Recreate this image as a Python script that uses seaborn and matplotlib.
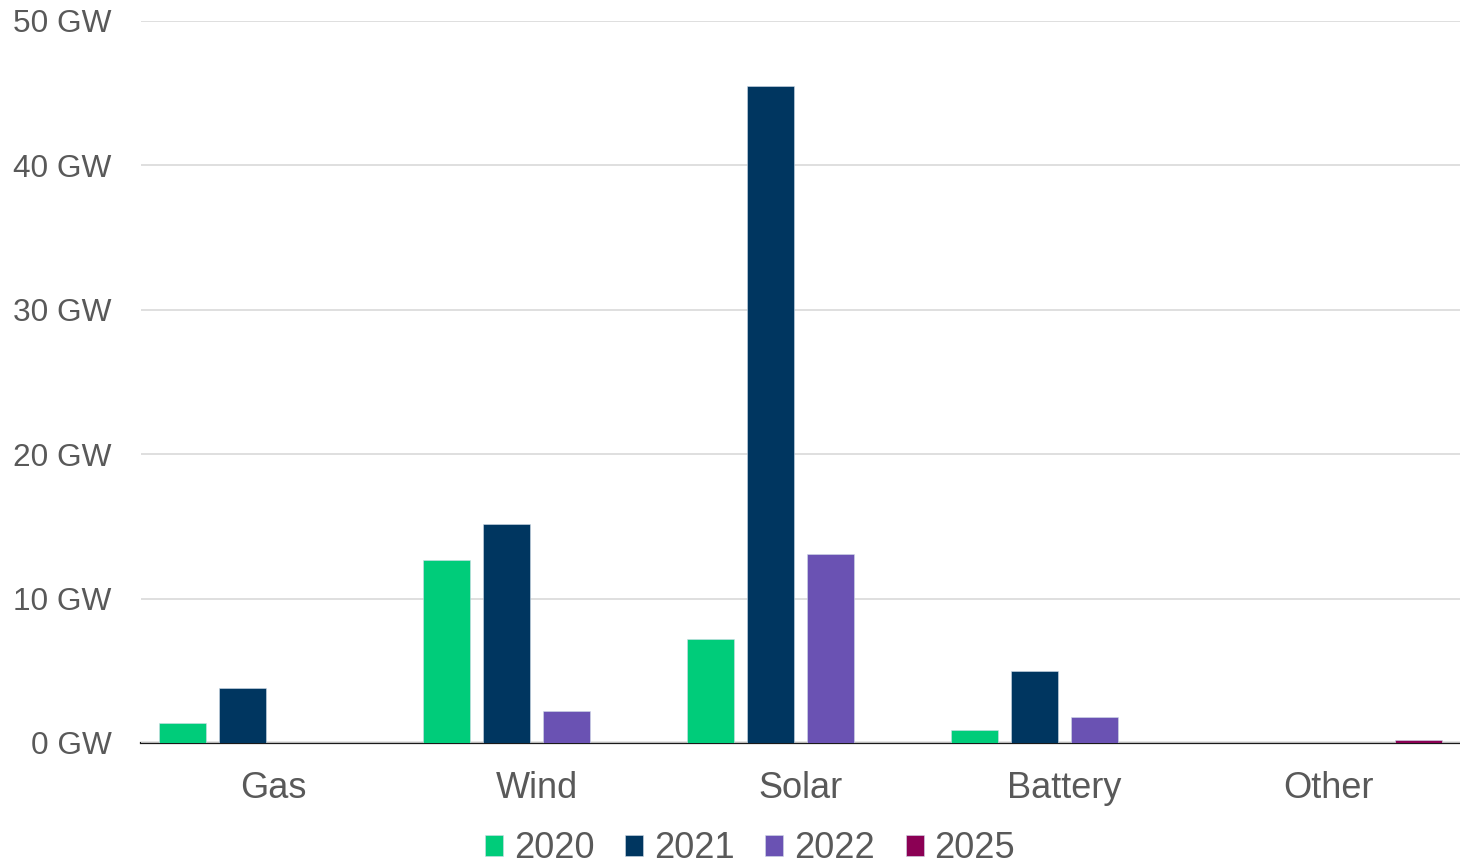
import matplotlib
matplotlib.use("Agg")
import matplotlib.pyplot as plt
import seaborn as sns
import pandas as pd

# ─── Data ─────────────────────────────────────────────────────────────────────
categories = ["Gas", "Wind", "Solar", "Battery", "Other"]
years = ["2020", "2021", "2022", "2025"]
capacity_2020 = [1.4, 12.7, 7.2, 0.9, 0.0]
capacity_2021 = [3.8, 15.2, 45.5, 5.0, 0.0]
capacity_2022 = [0.0, 2.2, 13.1, 1.8, 0.0]
capacity_2025 = [0.0, 0.0, 0.0, 0.0, 0.2]
colors = ["#00CC7A", "#003660", "#6A52B3", "#8B0054"]

rows = []
for year, vals in zip(years, [capacity_2020, capacity_2021, capacity_2022, capacity_2025]):
    for cat, v in zip(categories, vals):
        rows.append({"Technology": cat, "Year": year, "GW": v})
df = pd.DataFrame(rows)

# ─── Plot ─────────────────────────────────────────────────────────────────────
sns.set_style("white")
plt.rcParams["font.family"] = ["Liberation Sans", "DejaVu Sans"]

fig = plt.figure(figsize=(14.6, 8.68), dpi=100)
ax = fig.add_axes([141 / 1460, 1 - 743 / 868, 1 - 141 / 1460, (743 - 21) / 868])

sns.barplot(
    data=df, x="Technology", y="GW", hue="Year",
    order=categories, hue_order=years, palette=colors, saturation=1,
    width=0.91, gap=0.22, edgecolor="#D0DCE8", linewidth=0.4,
    errorbar=None, legend=True, ax=ax,
)

ax.set_ylim(0, 50)
ax.set_yticks([0, 10, 20, 30, 40, 50])
ax.set_yticklabels([f"{t} GW" for t in [0, 10, 20, 30, 40, 50]])
ax.yaxis.grid(True, color="#D9D9D9", linewidth=1.2)
ax.set_axisbelow(True)
for s in ["top", "right", "left"]:
    ax.spines[s].set_visible(False)
ax.spines["bottom"].set_color("#1A1A1A")
ax.spines["bottom"].set_linewidth(1.6)
ax.spines["bottom"].set_zorder(0.5)
ax.set_xlabel("")
ax.set_ylabel("")
ax.tick_params(axis="y", length=0, pad=21, labelsize=22.8, labelcolor="#595959")
ax.tick_params(axis="x", length=0, pad=20, labelsize=26, labelcolor="#595959")

handles, labels = ax.get_legend_handles_labels()
ax.get_legend().remove()
fig.legend(
    handles, labels, loc="center", bbox_to_anchor=(750 / 1460, 1 - 849 / 868),
    ncol=4, frameon=False, fontsize=26, labelcolor="#595959",
    handlelength=0.5, handleheight=0.5, handletextpad=0.3, columnspacing=0.85,
    borderpad=0.2,
)

plt.savefig("out.png", dpi=100)
plt.close()
